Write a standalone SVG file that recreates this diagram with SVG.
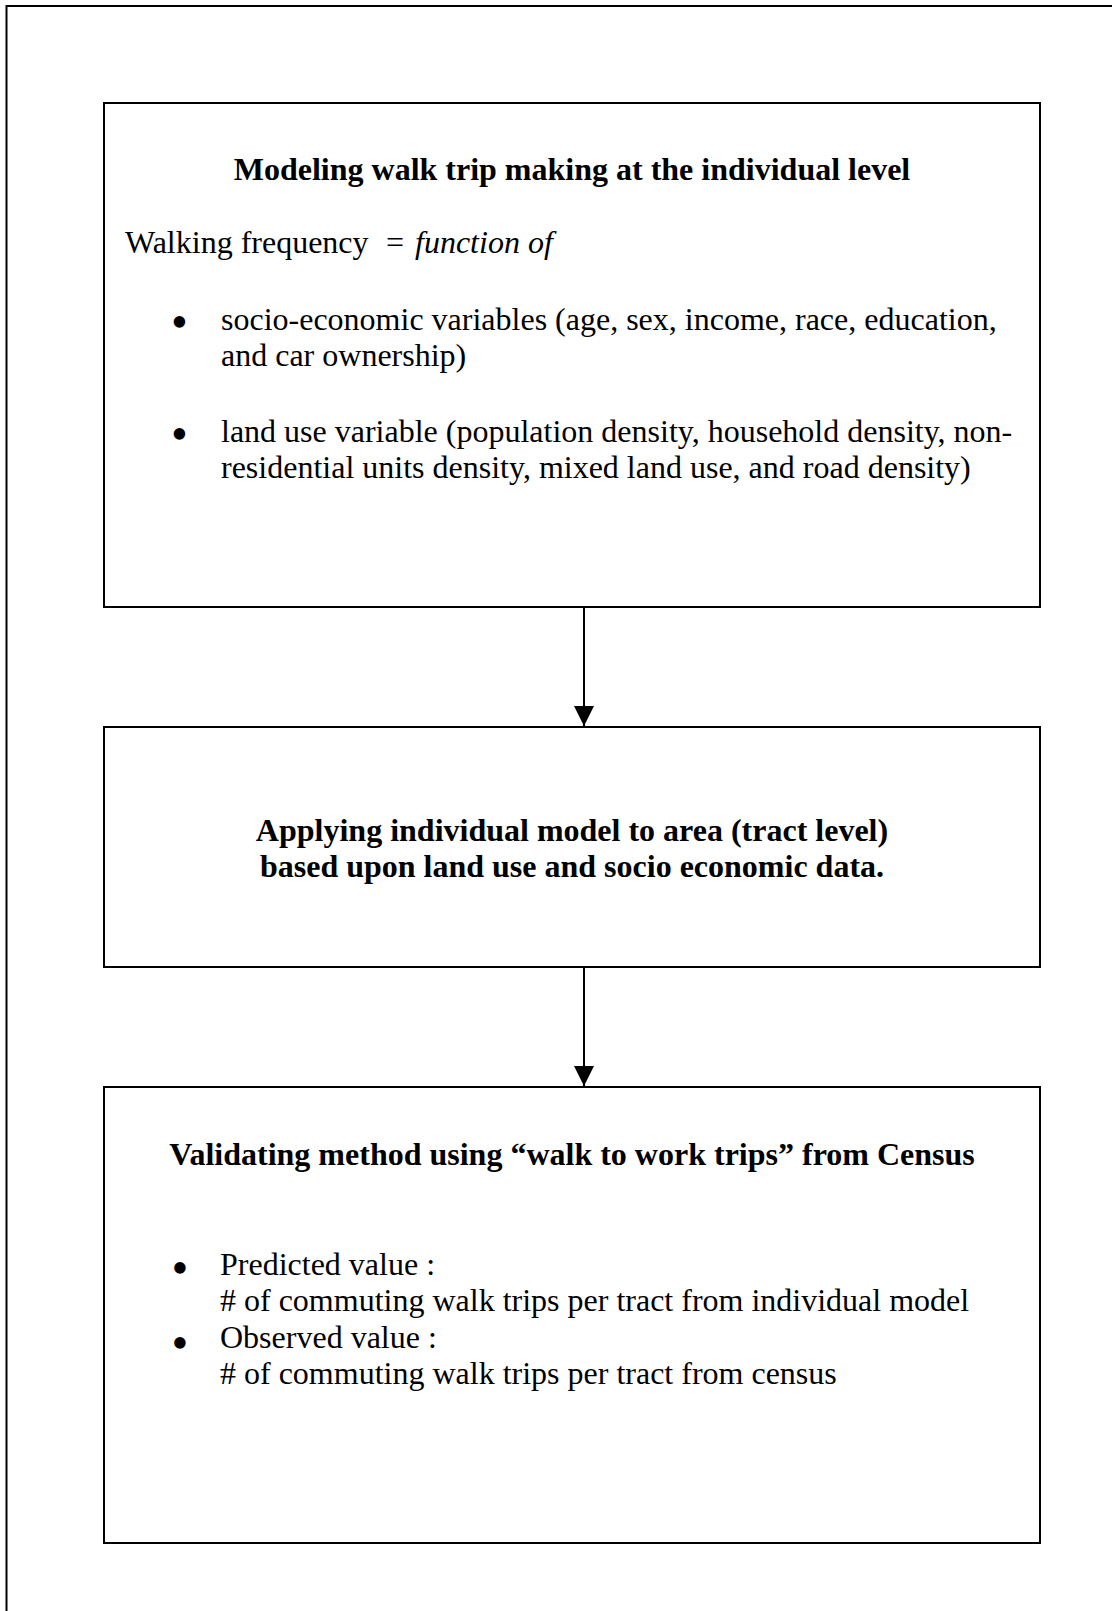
<svg xmlns="http://www.w3.org/2000/svg" width="1112" height="1611" viewBox="0 0 1112 1611">
<style>
  .box { fill: #fff; stroke: #000; stroke-width: 2; }
  .t { font-family: "Liberation Serif", "Times New Roman", serif; font-size: 32px; fill: #000; }
  .b { font-weight: bold; }
  .c { text-anchor: middle; }
  .bul { font-family: "Liberation Serif", "Times New Roman", serif; font-size: 48px; fill: #000; text-anchor: middle; }
  .edge { stroke: #000; stroke-width: 2; fill: none; }
</style>
<defs>
  <marker id="arr" viewBox="0 0 20 20" refX="20" refY="10" markerWidth="20" markerHeight="20" markerUnits="userSpaceOnUse" orient="auto">
    <path d="M0,0 L20,10 L0,20 Z" fill="#000"/>
  </marker>
</defs>
<rect width="1112" height="1611" fill="#fff"/>
<path d="M6.5,1611 V6 H1112" stroke="#000" stroke-width="2" fill="none"/>

<g id="node-modeling">
  <rect class="box" x="104" y="103" width="936" height="504"/>
  <text class="t b c" x="572" y="180">Modeling walk trip making at the individual level</text>
  <text class="t" y="253"><tspan x="125">Walking frequency</tspan><tspan x="386">=</tspan><tspan x="415" font-style="italic">function of</tspan></text>
  <text class="bul" x="179.5" y="338">•</text>
  <text class="t" x="221" y="330">socio-economic variables (age, sex, income, race, education,</text>
  <text class="t" x="221" y="366">and car ownership)</text>
  <text class="bul" x="179.5" y="450">•</text>
  <text class="t" x="221" y="442">land use variable (population density, household density, non-</text>
  <text class="t" x="221" y="478">residential units density, mixed land use, and road density)</text>
</g>

<g id="node-applying">
  <rect class="box" x="104" y="727" width="936" height="240"/>
  <text class="t b c" x="572" y="841">Applying individual model to area (tract level)</text>
  <text class="t b c" x="572" y="877">based upon land use and socio economic data.</text>
</g>

<g id="node-validating">
  <rect class="box" x="104" y="1087" width="936" height="456"/>
  <text class="t b c" x="572" y="1165">Validating method using “walk to work trips” from Census</text>
  <text class="bul" x="180" y="1284">•</text>
  <text class="t" x="220" y="1275">Predicted value :</text>
  <text class="t" x="220" y="1311"># of commuting walk trips per tract from individual model</text>
  <text class="bul" x="180" y="1359">•</text>
  <text class="t" x="220" y="1348">Observed value :</text>
  <text class="t" x="220" y="1384"># of commuting walk trips per tract from census</text>
</g>

<g id="connectors">
  <line class="edge" x1="584" y1="607" x2="584" y2="726" marker-end="url(#arr)"/>
  <line class="edge" x1="584" y1="967" x2="584" y2="1086" marker-end="url(#arr)"/>
</g>
</svg>
